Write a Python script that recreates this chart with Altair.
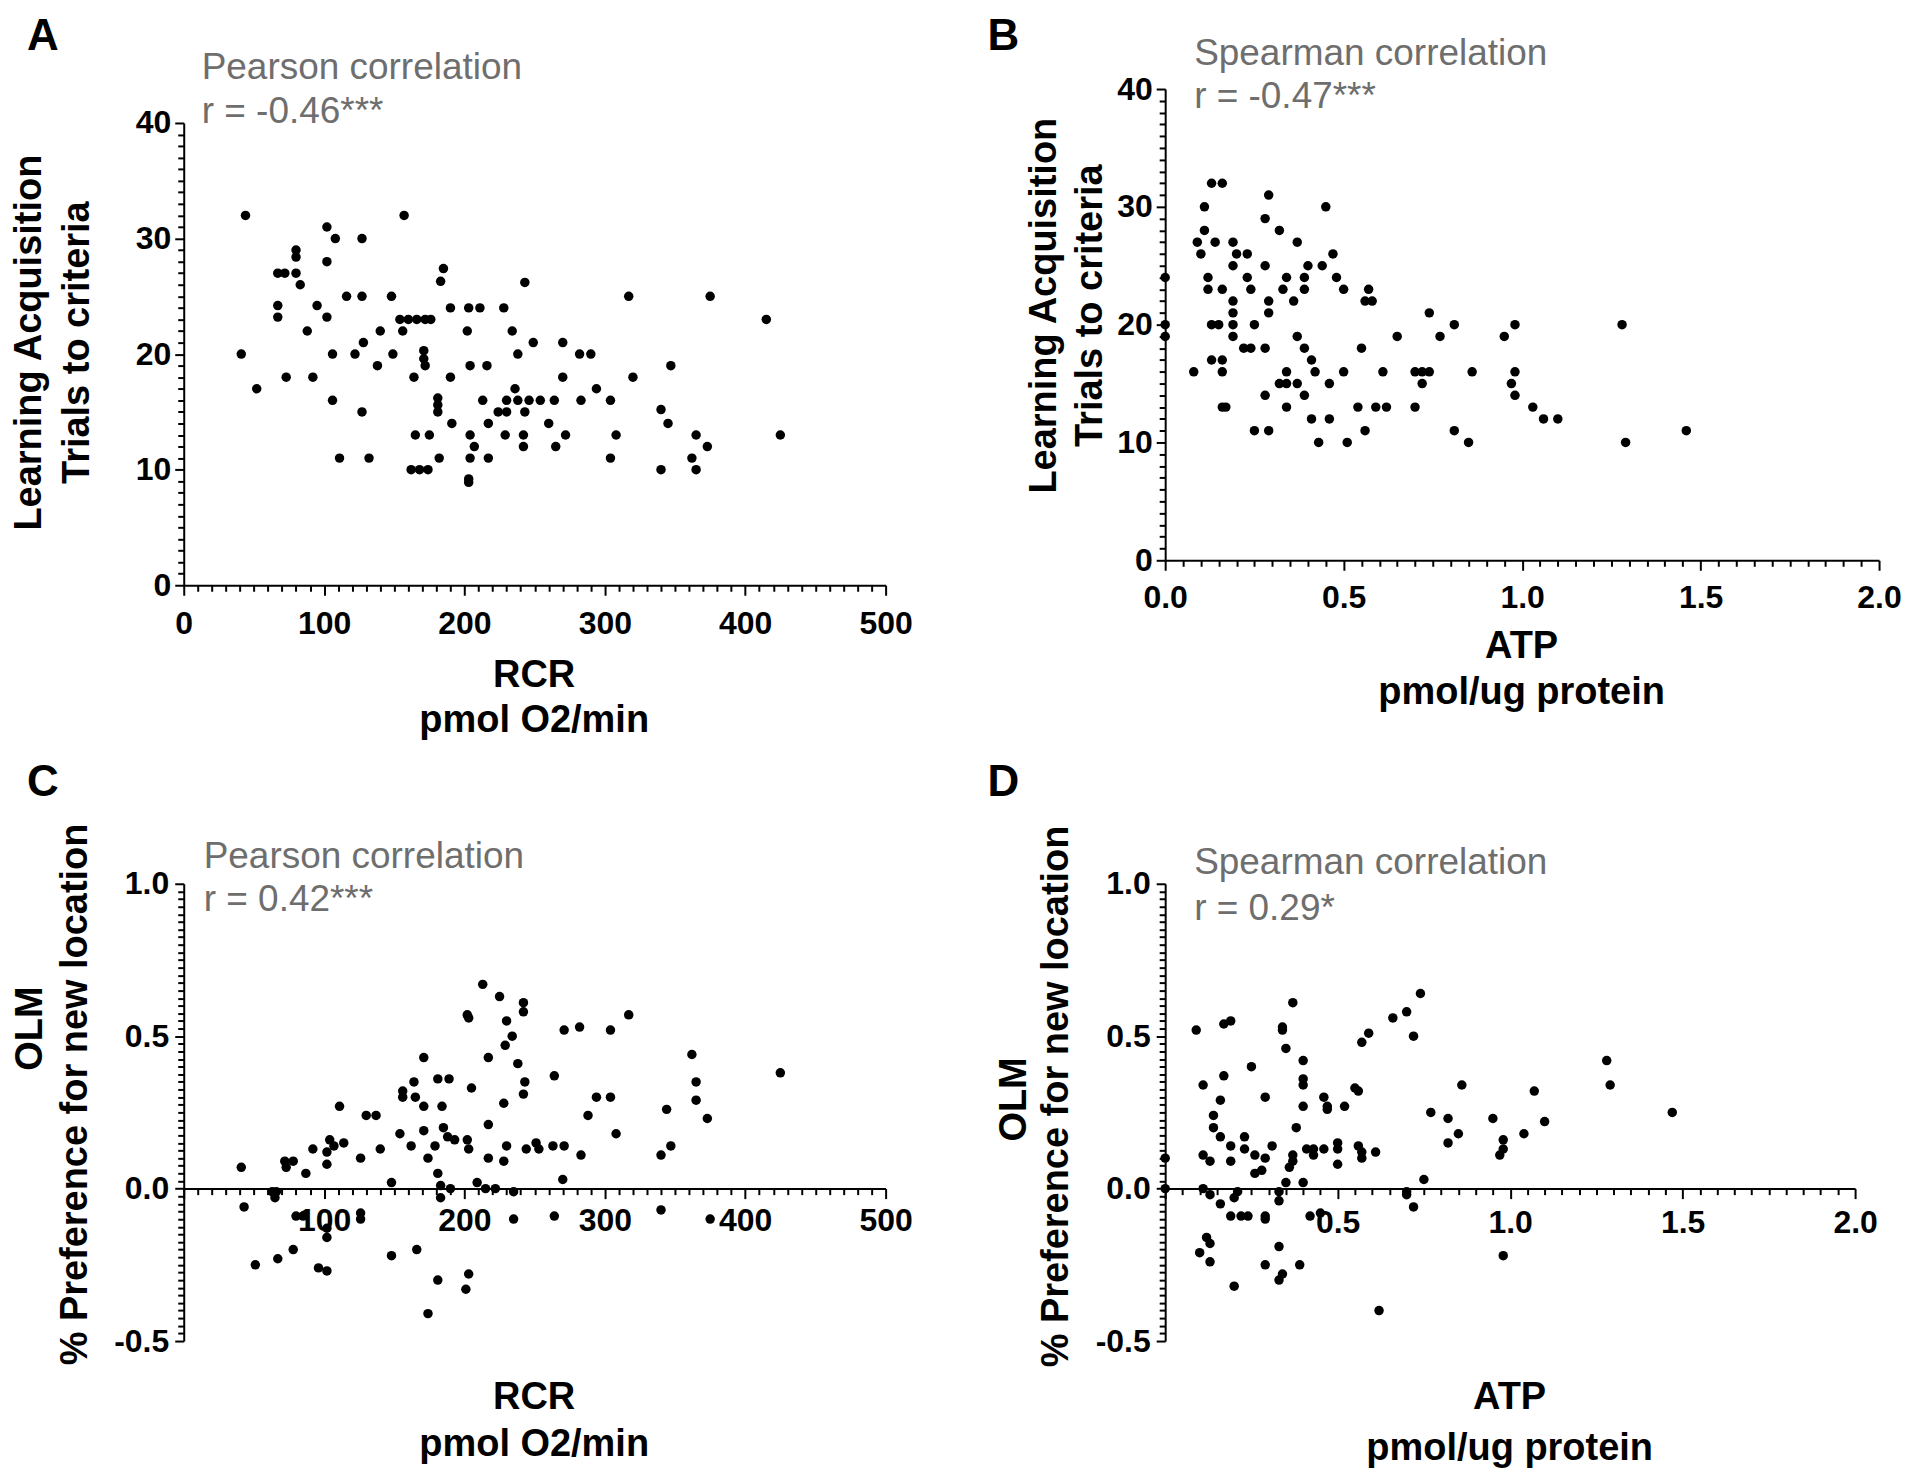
import altair as alt
import pandas as pd

# ---------------- Panel A: RCR vs Learning Acquisition ----------------
a_rcr = [44, 157, 102, 108, 127, 80, 80, 102, 67, 72, 80, 83, 185, 183, 243, 116, 127, 148, 317, 375,
         67, 67, 95, 102, 190, 203, 211, 228, 154, 160, 166, 172, 176, 415, 88, 140, 156, 202, 234, 128,
         249, 270, 41, 106, 122, 149, 171, 171, 238, 282, 290, 138, 172, 204, 216, 347, 73, 92, 164, 190,
         270, 320, 52, 236, 294, 106, 181, 181, 213, 230, 238, 246, 254, 264, 283, 304, 127, 181, 224, 230,
         243, 340, 345, 191, 217, 260, 165, 175, 204, 229, 242, 242, 272, 308, 365, 425, 207, 265, 373, 111,
         132, 182, 204, 217, 304, 362, 162, 168, 174, 340, 365, 203, 203]
a_trials = [32, 32, 31, 30, 30, 29, 28.4, 28, 27, 27, 27, 26, 27.4, 26.3, 26.2, 25, 25, 25, 25, 25,
            24.2, 23.2, 24.2, 23.2, 24, 24, 24, 24, 23, 23, 23, 23, 23, 23, 22, 22, 22, 22, 22, 21,
            21, 21, 20, 20, 20, 20, 20.3, 19.6, 20, 20, 20, 19, 19, 19, 19, 19, 18, 18, 18, 18,
            18, 18, 17, 17, 17, 16, 16.2, 15.6, 16, 16, 16, 16, 16, 16, 16, 16, 15, 15, 15, 15,
            15, 15.2, 14, 14, 14, 14, 13, 13, 13, 13, 13, 12, 13, 13, 13, 13, 12, 12, 12, 11,
            11, 11, 11, 11, 11, 11, 10, 10, 10, 10, 10, 9.2, 8.9]

# ---------------- Panel B: ATP vs Learning Acquisition ----------------
b_atp = [0.13, 0.16, 0.29, 0.11, 0.45, 0.28, 0.11, 0.32, 0.09, 0.10, 0.14, 0.19, 0.20, 0.37, 0.23, 0.47,
         0.19, 0.28, 0.40, 0.44, 0.23, 0.34, 0.39, 0.48, 0.0, 0.12, 0.12, 0.16, 0.24, 0.33, 0.39, 0.50,
         0.57, 0.56, 0.19, 0.29, 0.36, 0.58, 0.19, 0.29, 0.74, 0.13, 0.15, 0.19, 0.25, 0.81, 0.98, 1.28,
         0.0, 0.0, 0.19, 0.37, 0.65, 0.77, 0.95, 0.22, 0.24, 0.28, 0.39, 0.55, 0.13, 0.16, 0.41, 0.08,
         0.16, 0.34, 0.42, 0.50, 0.61, 0.70, 0.72, 0.74, 0.86, 0.98, 0.32, 0.34, 0.37, 0.46, 0.72, 0.97,
         0.28, 0.39, 0.98, 0.16, 0.17, 0.34, 0.54, 0.59, 0.62, 0.70, 1.03, 0.41, 0.46, 1.06, 1.10, 0.25,
         0.29, 0.56, 0.81, 1.46, 0.43, 0.51, 0.85, 1.29]
b_trials = [32, 32, 31, 30, 30, 29, 28, 28, 27, 26, 27, 27, 26, 27, 26, 26,
            25, 25, 25, 25, 24, 24, 24, 24, 24, 24, 23, 23, 23, 23, 23, 23,
            23, 22, 22, 22, 22, 22, 21, 21, 21, 20, 20, 20, 20, 20, 20, 20,
            20, 19, 19, 19, 19, 19, 19, 18, 18, 18, 18, 18, 17, 17, 17, 16,
            16, 16, 16, 16, 16, 16, 16, 16, 16, 16, 15, 15, 15, 15, 15, 15,
            14, 14, 14, 13, 13, 13, 13, 13, 13, 13, 13, 12, 12, 12, 12, 11,
            11, 11, 11, 11, 10, 10, 10, 10]

# ---------------- Panel C: RCR vs OLM ----------------
c_rcr = [213, 225, 242, 242, 202, 203, 317, 230, 271, 282, 304, 234, 229, 171, 217, 362, 238, 425, 264, 181,
         189, 164, 243, 205, 365, 156, 156, 165, 242, 294, 304, 228, 365, 171, 184, 111, 344, 288, 130, 137,
         373, 217, 185, 308, 154, 171, 188, 104, 107, 114, 92, 140, 162, 179, 193, 202, 203, 230, 244, 251,
         253, 263, 271, 283, 340, 347, 126, 174, 102, 102, 72, 78, 73, 41, 217, 228, 87, 181, 270, 148,
         209, 183, 190, 215, 222, 235, 63, 66, 65, 183, 43, 80, 85, 126, 126, 235, 264, 340, 375, 102,
         102, 78, 67, 51, 148, 166, 96, 102, 181, 203, 201, 174]
c_olm = [0.67, 0.63, 0.61, 0.58, 0.57, 0.56, 0.57, 0.55, 0.52, 0.53, 0.52, 0.50, 0.47, 0.43, 0.43, 0.44,
         0.41, 0.38, 0.37, 0.36, 0.36, 0.35, 0.35, 0.33, 0.35, 0.32, 0.30, 0.30, 0.31, 0.30, 0.30, 0.28,
         0.29, 0.27, 0.27, 0.27, 0.26, 0.24, 0.24, 0.24, 0.23, 0.21, 0.20, 0.18, 0.18, 0.19, 0.17, 0.16,
         0.14, 0.15, 0.13, 0.13, 0.14, 0.14, 0.16, 0.16, 0.13, 0.14, 0.13, 0.15, 0.13, 0.14, 0.14, 0.11,
         0.11, 0.14, 0.10, 0.10, 0.12, 0.08, 0.09, 0.09, 0.07, 0.07, 0.10, 0.09, 0.05, 0.05, 0.03, 0.02,
         0.02, 0.01, 0.0, 0.0, 0.0, -0.01, -0.01, -0.01, -0.03, -0.03, -0.06, -0.09, -0.09, -0.08, -0.10, -0.10,
         -0.09, -0.07, -0.10, -0.13, -0.16, -0.20, -0.23, -0.25, -0.22, -0.20, -0.26, -0.27, -0.30, -0.28, -0.33, -0.41]

# ---------------- Panel D: ATP vs OLM ----------------
d_atp = [0.74, 0.37, 0.70, 0.66, 0.17, 0.19, 0.09, 0.34, 0.34, 0.72, 0.59, 0.57, 0.35, 0.40, 1.28, 0.25,
         0.17, 0.11, 0.40, 0.40, 0.86, 1.29, 0.55, 0.56, 1.07, 0.29, 0.16, 0.46, 0.47, 0.47, 0.52, 0.40,
         1.47, 0.77, 0.14, 0.82, 0.95, 1.10, 0.38, 0.14, 0.16, 0.85, 0.82, 1.04, 0.23, 0.23, 0.19, 0.19,
         0.31, 0.41, 0.43, 0.46, 0.43, 0.50, 0.50, 0.56, 0.57, 0.57, 0.61, 0.98, 0.98, 0.97, 0.11, 0.13,
         0.0, 0.26, 0.29, 0.37, 0.37, 0.36, 0.50, 0.28, 0.26, 0.35, 0.40, 0.75, 0.0, 0.11, 0.13, 0.21,
         0.33, 0.33, 0.70, 0.70, 0.20, 0.16, 0.72, 0.19, 0.22, 0.24, 0.29, 0.29, 0.42, 0.45, 0.12, 0.13,
         0.10, 0.13, 0.33, 0.98, 0.29, 0.39, 0.34, 0.33, 0.20, 0.62]
d_olm = [0.64, 0.61, 0.58, 0.56, 0.54, 0.55, 0.52, 0.53, 0.52, 0.50, 0.51, 0.48, 0.46, 0.42, 0.42, 0.40,
         0.37, 0.34, 0.36, 0.34, 0.34, 0.34, 0.33, 0.32, 0.32, 0.30, 0.29, 0.30, 0.27, 0.26, 0.27, 0.27,
         0.25, 0.25, 0.24, 0.23, 0.23, 0.22, 0.20, 0.20, 0.17, 0.18, 0.15, 0.18, 0.17, 0.13, 0.14, 0.09,
         0.14, 0.13, 0.13, 0.13, 0.11, 0.15, 0.13, 0.14, 0.12, 0.10, 0.12, 0.16, 0.13, 0.11, 0.11, 0.09,
         0.10, 0.11, 0.10, 0.11, 0.09, 0.07, 0.08, 0.06, 0.05, 0.02, 0.02, 0.03, 0.0, 0.0, -0.02, -0.01,
         -0.01, -0.04, -0.01, -0.02, -0.03, -0.05, -0.06, -0.09, -0.09, -0.09, -0.09, -0.10, -0.09, -0.08, -0.16, -0.18,
         -0.21, -0.24, -0.19, -0.22, -0.25, -0.25, -0.28, -0.30, -0.32, -0.40]

# ---------------- Text ----------------
panel_letters = ["A", "B", "C", "D"]
stat_titles = ["Pearson correlation", "Spearman correlation", "Pearson correlation", "Spearman correlation"]
stat_values = ["r = -0.46***", "r = -0.47***", "r = 0.42***", "r = 0.29*"]
y_titles = [["Learning Acquisition", "Trials to criteria"],
            ["Learning Acquisition", "Trials to criteria"],
            ["OLM", "% Preference for new location"],
            ["OLM", "% Preference for new location"]]
x_titles = [["RCR", "pmol O2/min"], ["ATP", "pmol/ug protein"],
            ["RCR", "pmol O2/min"], ["ATP", "pmol/ug protein"]]

FONT = "Liberation Sans"


def tick_list(start, stop, step, nd):
    n = int(round((stop - start) / step))
    return [round(start + i * step, nd) for i in range(n + 1)]


def make_axis(values, major_test, label_test, fmt, major, minor, pad, offset=0):
    return alt.Axis(
        values=values, format=fmt,
        labelExpr=f"({label_test}) ? replace(datum.label, '\u2212', '-') : ''",
        tickSize={"condition": {"test": major_test, "value": major}, "value": minor},
        labelPadding=pad, offset=offset, title=None, grid=False,
        domainColor="black", domainWidth=2, tickColor="black", tickWidth=2,
        labelFont=FONT, labelFontSize=32, labelFontWeight="bold", labelColor="black",
        labelOverlap=False, labelFlush=False, labelBound=False,
    )


def text(s, x, y, size, weight="bold", color="black", align="center",
         baseline="middle", angle=0):
    kw = dict(fontSize=size, fontWeight=weight, color=color, align=align,
              baseline=baseline, font=FONT)
    if angle:
        kw["angle"] = angle
    return alt.Chart(pd.DataFrame({"t": [s]})).mark_text(**kw).encode(
        text="t:N", x=alt.value(x), y=alt.value(y))


def panel(i, xs, ys, xdom, ydom, width, height, ybot, ytop, xaxis, yaxis, lay):
    df = pd.DataFrame({"x": xs, "y": ys})
    pts = alt.Chart(df).mark_circle(size=90, color="black", opacity=1).encode(
        x=alt.X("x:Q", scale=alt.Scale(domain=xdom, range=[0, width], nice=False, zero=False),
                axis=xaxis),
        y=alt.Y("y:Q", scale=alt.Scale(domain=ydom, range=[ybot, ytop], nice=False, zero=False),
                axis=yaxis),
    )
    texts = [
        text(panel_letters[i], lay["letter"][0], lay["letter"][1], 44, baseline="alphabetic"),
        text(stat_titles[i], lay["ann"][0], lay["ann"][1], 37, weight="normal", color="#6e6e6e",
             align="left"),
        text(stat_values[i], lay["ann"][0], lay["ann"][2], 37, weight="normal", color="#6e6e6e",
             align="left"),
        text(y_titles[i][0], lay["yt1"][0], lay["yt1"][1], 38, angle=270),
        text(y_titles[i][1], lay["yt2"][0], lay["yt2"][1], 38, angle=270),
        text(x_titles[i][0], lay["xt"][0], lay["xt"][1], 38),
        text(x_titles[i][1], lay["xt"][0], lay["xt"][2], 38),
    ]
    return alt.layer(pts, *texts).properties(width=width, height=height)


rcr_ticks = tick_list(0, 500, 10, 0)
atp_ticks = tick_list(0, 2, 0.05, 2)
trial_ticks = tick_list(0, 40, 0.5, 1)
olm_ticks = tick_list(-0.5, 1.0, 0.025, 3)

t100 = "datum.value % 100 === 0"
t10 = "datum.value % 10 === 0"
thalf = "abs(datum.value * 2 - round(datum.value * 2)) < 0.000001"

# Panel A
A = panel(0, a_rcr, a_trials, [0, 500], [0, 40], 703, 497, 497, 34,
          make_axis(rcr_ticks, t100, t100, "d", 10, 6, 13),
          make_axis(trial_ticks, t10, t10, "d", 9, 6, 4),
          {"letter": (-141, -39), "ann": (18, -21, 23), "yt1": (-154, 254), "yt2": (-106, 254),
           "xt": (351, 588, 633)})

# Panel B
B = panel(1, b_atp, b_trials, [0, 2], [0, 40], 715, 472, 472, 0,
          make_axis(atp_ticks, thalf, thalf, ".1f", 10, 6, 12),
          make_axis(trial_ticks, t10, t10, "d", 9, 6, 4),
          {"letter": (-162, -39), "ann": (29, -35, 8), "yt1": (-120, 217), "yt2": (-74, 217),
           "xt": (357, 559, 605)})

# Panel C
C_H = 458
c_off = C_H * (0.5 / 1.5) * -1
C = panel(2, c_rcr, c_olm, [0, 500], [-0.5, 1.0], 703, C_H, C_H, 0,
          make_axis(rcr_ticks, t100, f"{t100} && datum.value > 0", "d", 10, 6, 7, offset=c_off),
          make_axis(olm_ticks, thalf, thalf, ".1f", 9, 6, 6),
          {"letter": (-141, -88), "ann": (20, -27, 16), "yt1": (-153, 145), "yt2": (-108, 211),
           "xt": (351, 515, 562)})

# Panel D
D = panel(3, d_atp, d_olm, [0, 2], [-0.5, 1.0], 691, C_H, C_H, 0,
          make_axis(atp_ticks, thalf, f"({thalf}) && datum.value > 0", ".1f", 10, 6, 9, offset=c_off),
          make_axis(olm_ticks, thalf, thalf, ".1f", 9, 6, 6),
          {"letter": (-162, -88), "ann": (29, -21, 25), "yt1": (-150, 216), "yt2": (-108, 213),
           "xt": (345, 515, 566)})

chart = alt.concat(
    A, B, C, D, columns=2,
    spacing=alt.RowColnumber(row=299, column=280),
    bounds="flush",
).properties(
    padding={"left": 3, "top": 6, "right": 10, "bottom": 0},
    background="white",
).configure_view(stroke=None)

chart.save("out.html", embed_options={"renderer": "svg", "actions": False})
